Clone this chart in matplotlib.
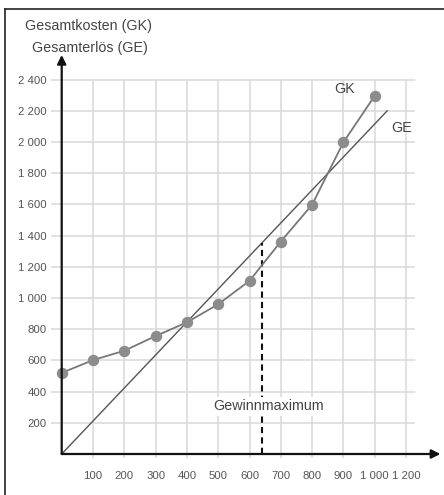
import numpy as np
import matplotlib
matplotlib.use("Agg")
import matplotlib.pyplot as plt
from matplotlib.lines import Line2D

# ---- data ----
menge = [0, 100, 200, 300, 400, 500, 600, 700, 800, 900, 1000]
gk = [520, 602, 662, 756, 844, 960, 1110, 1362, 1598, 1998, 2296]
ge_x = [0, 1040]
ge_y = [0, 2200]
gewinn_x = 640
xticks = [100, 200, 300, 400, 500, 600, 700, 800, 900, 1000, 1100]
xlabels = ["100", "200", "300", "400", "500", "600", "700", "800", "900", "1 000", "1 200"]
yticks = [200, 400, 600, 800, 1000, 1200, 1400, 1600, 1800, 2000, 2200, 2400]
ylabels = ["200", "400", "600", "800", "1 000", "1 200", "1 400", "1 600", "1 800",
           "2 000", "2 200", "2 400"]

plt.rcParams['font.family'] = ['Liberation Sans', 'DejaVu Sans']

W, H = 444, 495
fig = plt.figure(figsize=(W / 100, H / 100), dpi=100)
fig.patch.set_facecolor('white')

x0px, y0px = 61.7, 454.0
sx, sy = 0.313, 0.156
xmax, ymax = 1215, 2560
ax = fig.add_axes([x0px / W, (H - y0px) / H, xmax * sx / W, ymax * sy / H])
ax.set_xlim(0, xmax)
ax.set_ylim(0, ymax)
for s in ax.spines.values():
    s.set_visible(False)
ax.patch.set_alpha(0)

gridc = '#d8d8d8'
ax.hlines(yticks, 0, 1130, color=gridc, lw=1.1, zorder=0)
ax.vlines(xticks, 0, 2400, color=gridc, lw=1.1, zorder=0)

ax.set_xticks(xticks, xlabels)
ax.set_yticks(yticks, ylabels)
ax.tick_params(axis='x', length=3, color=gridc, width=1.1, pad=9,
               labelsize=8.2, labelcolor='#555555')
ax.tick_params(axis='y', length=8, color=gridc, width=1.1, pad=3,
               labelsize=8.2, labelcolor='#555555')

# axes arrows
ax.annotate('', xy=(1210, 0), xytext=(0, 0),
            arrowprops=dict(arrowstyle='-|>', color='#111111', lw=1.6,
                            mutation_scale=13, shrinkA=0, shrinkB=0),
            annotation_clip=False, zorder=5)
ax.annotate('', xy=(0, 2558), xytext=(0, 0),
            arrowprops=dict(arrowstyle='-|>', color='#111111', lw=1.6,
                            mutation_scale=13, shrinkA=0, shrinkB=0),
            annotation_clip=False, zorder=5)

# GE line
ax.plot(ge_x, ge_y, color='#555555', lw=1.0, zorder=3, clip_on=False)
# GK line with points
ax.plot(menge, gk, color='#777777', lw=1.3, marker='o', markersize=7.2,
        markerfacecolor='#8c8c8c', markeredgecolor='#8c8c8c', zorder=4, clip_on=False)

# Gewinnmaximum
top = float(np.interp(gewinn_x, ge_x, ge_y))
ax.plot([gewinn_x, gewinn_x], [0, top], color='#111111', lw=1.5,
        linestyle=(0, (3, 2)), zorder=3)
ax.text(661, 305, 'Gewinnmaximum', ha='center', va='center', fontsize=10.3,
        color='#444444', zorder=6,
        bbox=dict(facecolor='white', edgecolor='none', pad=2))

ax.text(905, 2340, 'GK', ha='center', va='center', fontsize=10.3, color='#444444')
ax.text(1087, 2090, 'GE', ha='center', va='center', fontsize=10.3, color='#444444')

# axis titles
fig.text(25 / W, 1 - 26 / H, 'Gesamtkosten (GK)', ha='left', va='center',
         fontsize=10.3, color='#444444')
fig.text(32 / W, 1 - 48 / H, 'Gesamterlös (GE)', ha='left', va='center',
         fontsize=10.3, color='#444444')

# outer frame (left and top)
fig.add_artist(Line2D([5 / W, 5 / W], [0, 1 - 9 / H], color='#222222', lw=1.2))
fig.add_artist(Line2D([5 / W, 1], [1 - 9 / H, 1 - 9 / H], color='#222222', lw=1.2))

fig.savefig('out.png', dpi=100)
